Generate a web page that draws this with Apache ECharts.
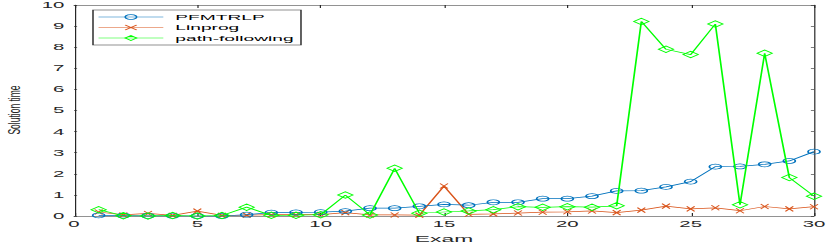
<!DOCTYPE html>
<html>
<head>
<meta charset="utf-8">
<script src="https://cdn.jsdelivr.net/npm/echarts@6/dist/echarts.min.js"></script>
<style>
html,body{margin:0;padding:0;background:#fff;overflow:hidden;}
#wrap{width:829px;height:243px;overflow:hidden;position:relative;}
#c{position:absolute;left:0;top:0;height:243px;transform-origin:0 0;}
</style>
</head>
<body>
<div id="wrap"><div id="c"></div></div>
<script>
// ---- data ----
var exams = [1,2,3,4,5,6,7,8,9,10,11,12,13,14,15,16,17,18,19,20,21,22,23,24,25,26,27,28,29,30];
var pfmtrlp = [0.03,0.02,0.01,0.01,0.0,0.0,0.06,0.16,0.17,0.18,0.23,0.37,0.37,0.46,0.55,0.51,0.65,0.65,0.82,0.82,0.94,1.19,1.2,1.38,1.63,2.34,2.35,2.45,2.61,3.05];
var linprog = [0.19,0.05,0.12,0.03,0.23,0.03,0.04,0.06,0.06,0.07,0.16,0.05,0.05,0.04,1.42,0.08,0.1,0.14,0.18,0.2,0.24,0.16,0.28,0.47,0.34,0.39,0.25,0.45,0.34,0.44];
var pathFollowing = [0.3,0.01,0.0,0.02,0.0,0.02,0.42,0.03,0.04,0.06,0.99,0.05,2.26,0.13,0.19,0.24,0.3,0.44,0.41,0.44,0.42,0.48,9.22,7.9,7.65,9.1,0.53,7.71,1.82,0.94];
var seriesNames = ['PFMTRLP','Linprog','path-following'];
var xTicks = {min:0, max:30, interval:5};
var yTicks = {min:0, max:10, interval:1};
var xLabel = 'Exam';
var yLabel = 'Solution time';

// ---- layout (internal coords are horizontally squeezed by S, then CSS-stretched) ----
var S = 2.4;
var W = 829 / S;
var el = document.getElementById('c');
el.style.width = W + 'px';
el.style.transform = 'scaleX(' + S + ')';

function pairs(ys){ return exams.map(function(x,i){ return [x, ys[i]]; }); }

var axisColor = '#262626';
var font = 'Liberation Sans';
var blue = '#0072BD', orange = '#D95319', green = '#00FF00';

var chart = echarts.init(el, null, {renderer:'svg', width: W, height: 243});
chart.setOption({
  animation:false,
  backgroundColor:'#fff',
  grid:{left:74/S, right:15/S, top:5, bottom:27, containLabel:false, outerBoundsMode:'none'},
  xAxis:[{
    type:'value', position:'bottom', min:xTicks.min, max:xTicks.max, interval:xTicks.interval,
    name:xLabel, nameLocation:'middle', nameGap:10,
    nameTextStyle:{fontFamily:font, fontSize:9.5, color:axisColor, lineHeight:10},
    axisLine:{show:true, lineStyle:{color:axisColor, width:0.6}},
    axisTick:{show:true, inside:true, length:3, lineStyle:{color:axisColor, width:0.5}},
    axisLabel:{fontFamily:font, fontSize:8.5, color:axisColor, margin:4},
    splitLine:{show:false}
  },{
    type:'value', position:'top', min:xTicks.min, max:xTicks.max, interval:xTicks.interval,
    axisLine:{show:true, onZero:false, lineStyle:{color:axisColor, width:0.6}},
    axisTick:{show:true, inside:true, length:3, lineStyle:{color:axisColor, width:0.5}},
    axisLabel:{show:false}, splitLine:{show:false}
  }],
  yAxis:[{
    type:'value', position:'left', min:yTicks.min, max:yTicks.max, interval:yTicks.interval,
    axisLine:{show:true, lineStyle:{color:axisColor, width:0.5}},
    axisTick:{show:true, inside:true, length:1.3, lineStyle:{color:axisColor, width:0.6}},
    axisLabel:{fontFamily:font, fontSize:8.5, color:axisColor, margin:4},
    splitLine:{show:false}
  },{
    type:'value', position:'right', min:yTicks.min, max:yTicks.max, interval:yTicks.interval,
    axisLine:{show:true, onZero:false, lineStyle:{color:axisColor, width:0.5}},
    axisTick:{show:true, inside:true, length:1.3, lineStyle:{color:axisColor, width:0.6}},
    axisLabel:{show:false}, splitLine:{show:false}
  }],
  legend:{
    orient:'vertical', left:93/S, top:10, padding:[3,3,3,2],
    itemWidth:27, itemHeight:6, itemGap:2.5,
    borderColor:axisColor, borderWidth:0.6, backgroundColor:'#fff',
    itemStyle:{color:'transparent', borderWidth:0.7},
    lineStyle:{width:0.6},
    textStyle:{fontFamily:font, fontSize:8, color:'#000', lineHeight:8},
    data:seriesNames
  },
  graphic:[{
    type:'text', x:14/S, y:110, rotation:Math.PI/2, scaleX:1, scaleY:0.85,
    style:{text:yLabel, font:'8.5px "Liberation Sans"', fill:axisColor, textAlign:'center', textVerticalAlign:'middle'}
  }],
  series:[{
    name:seriesNames[0], type:'line', data:pairs(pfmtrlp),
    symbol:'circle', symbolSize:[5,5],
    itemStyle:{color:'transparent', borderColor:blue, borderWidth:0.7},
    lineStyle:{color:blue, width:0.75}, z:3
  },{
    name:seriesNames[1], type:'line', data:pairs(linprog),
    symbol:'path://M0,0L10,10M10,0L0,10', symbolSize:[3.3,5],
    itemStyle:{color:'transparent', borderColor:orange, borderWidth:0.7},
    lineStyle:{color:orange, width:0.75}, z:2
  },{
    name:seriesNames[2], type:'line', data:pairs(pathFollowing),
    symbol:'diamond', symbolSize:[6.3,6.5],
    itemStyle:{color:'transparent', borderColor:green, borderWidth:0.7},
    lineStyle:{color:green, width:0.7}, z:4
  }]
});
</script>
</body>
</html>
